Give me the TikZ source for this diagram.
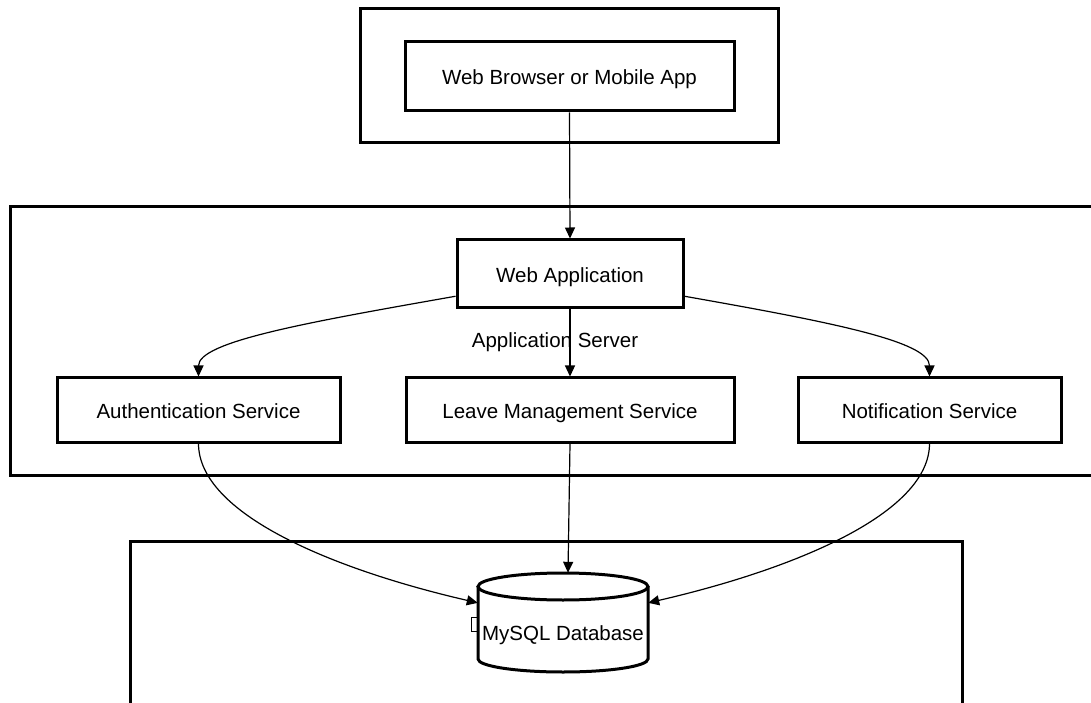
\documentclass[tikz,border=0pt]{standalone}
\usepackage{fontspec}
\setmainfont{Liberation Sans}
\usetikzlibrary{arrows.meta,calc}

\begin{document}
\begin{tikzpicture}[x=1pt,y=1pt,
  txt/.style={font=\fontsize{20.5}{24}\selectfont},
  frame/.style={draw, line width=3pt},
  box/.style={txt, draw, line width=3pt, inner sep=0pt, fill=white,
              text height=19pt, text depth=2.5pt},
  link/.style={line width=1.2pt, -{Triangle[length=11pt,width=10pt]}},
]
\clip (0,0) rectangle (1091,702);
\fill[white] (0,0) rectangle (1091,702);

% grouping frames
\draw[frame] (360,559) rectangle (778,693);
\draw[frame] (10,227) rectangle (1120,495);
\draw[frame] (130,-20) rectangle (962,161);

% client
\node[box, minimum width=329pt, minimum height=69pt] (browser) at (569.5,625.5) {Web Browser or Mobile App};

% application server
\node[box, minimum width=226pt, minimum height=68pt] (webapp) at (570,428) {Web Application};
\node[box, minimum width=283pt, minimum height=64pt] (auth) at (198.5,292) {Authentication Service};
\node[box, minimum width=328pt, minimum height=64pt] (leave) at (570,292) {Leave Management Service};
\node[box, minimum width=263pt, minimum height=64pt] (notif) at (929.5,292) {Notification Service};
\node[txt] (srvlabel) at (555,360) {Application Server};

% database cylinder
\node[minimum width=170pt, minimum height=99pt, inner sep=0pt] (db) at (563,79.5) {};
\fill[white] (478,115.5) -- (478,43) arc[start angle=180,end angle=360,x radius=85,y radius=13] -- (648,115.5) arc[start angle=0,end angle=180,x radius=85,y radius=13.5] -- cycle;
\draw[line width=3pt] (478,115.5) -- (478,43) arc[start angle=180,end angle=360,x radius=85,y radius=13] -- (648,115.5);
\draw[line width=3pt] (563,115.5) ellipse[x radius=85, y radius=13.5];
\draw[line width=1pt] (471,71) rectangle (478,85);
\node[txt] (dblabel) at (563,66.5) {MySQL Database};

% connectors
\draw[link] (browser.south) -- (webapp.north);
\draw[link] (webapp.191) to[out=190, in=90, out distance=150pt, in distance=35pt] (auth.north);
\draw[link] (webapp.349) to[out=-10, in=90, out distance=150pt, in distance=35pt] (notif.north);
\draw[link] (webapp.south) -- (leave.north);
\draw[link] (auth.south) to[out=-90, in=167, out distance=70pt, in distance=150pt] (db.167);
\draw[link] (notif.south) to[out=-90, in=13, out distance=70pt, in distance=150pt] (db.13);
\draw[link] (leave.south) -- ([xshift=5pt]db.north);
\end{tikzpicture}
\end{document}
